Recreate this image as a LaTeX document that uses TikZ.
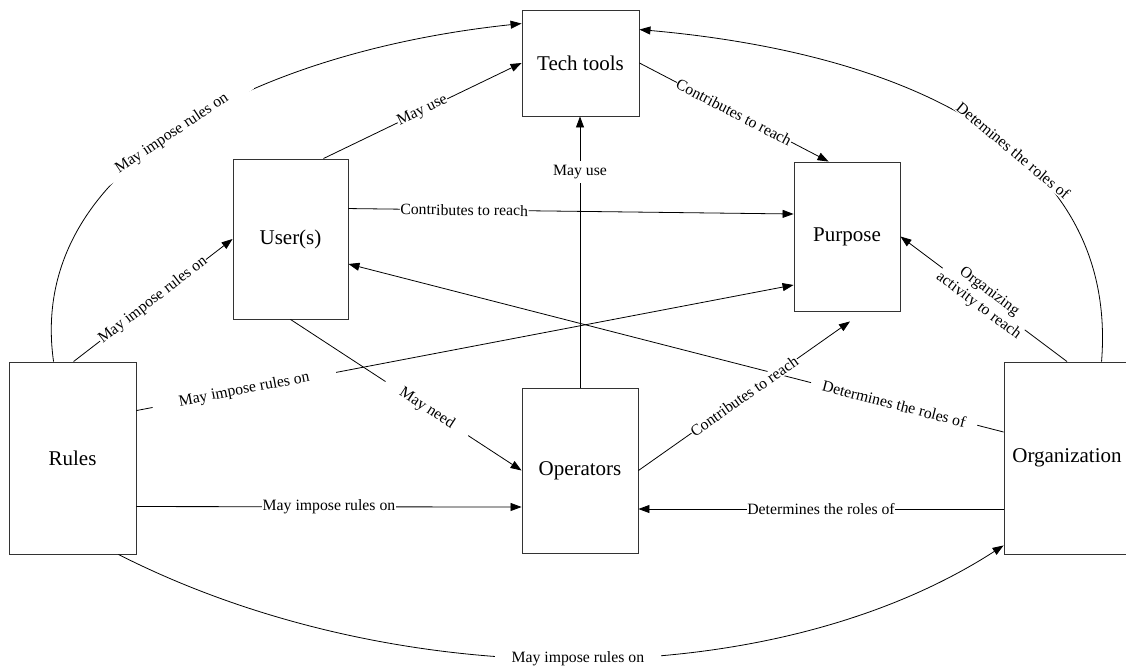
\documentclass[tikz,border=0pt]{standalone}
\usepackage{fontspec}
\setmainfont{Liberation Serif}
\usetikzlibrary{arrows.meta}
\begin{document}
\begin{tikzpicture}[x=1pt,y=-1pt,
  box/.style={draw=black!80, line width=0.9pt, fill=white, inner sep=0pt, font=\fontsize{21}{25}\selectfont},
  conn/.style={line width=0.8pt, -{Triangle[length=11pt,width=8pt]}},
  lbl/.style={fill=white, inner xsep=0.5pt, inner ysep=1pt, font=\fontsize{15.75}{18}\selectfont},
]
\useasboundingbox (0,0) rectangle (1126,668);
\clip (0,0) rectangle (1126,668);

\node[box, minimum width=117pt, minimum height=106pt] (tech) at (580.5,63) {Tech tools};
\node[box, minimum width=115pt, minimum height=160pt] (users) at (290.5,239) {User(s)};
\node[box, minimum width=106pt, minimum height=149pt] (purpose) at (847,236.5) {Purpose};
\node[box, minimum width=127pt, minimum height=192pt] (rules) at (72.5,458) {Rules};
\node[box, minimum width=116pt, minimum height=165pt] (ops) at (580,470.5) {Operators};
\node[box, minimum width=126pt, minimum height=192pt] (org) at (1067,458) {Organization};

% Rules -> Tech tools (arc)
\draw[conn] ([xshift=45pt]rules.north west) .. controls (25,160) and (270,50) .. ([yshift=-14pt]tech.north west)
  node[lbl, sloped, pos=0.48, inner xsep=27pt] {May impose rules on};
% Users -> Tech tools
\draw[conn] ([xshift=-25pt]users.north east) -- (tech.west)
  node[lbl, sloped, pos=0.5] {May use};
% Users -> Purpose
\draw[conn] ([yshift=-50pt]users.north east) -- ([yshift=22.5pt]purpose.west)
  node[lbl, sloped, pos=0.26] {Contributes to reach};
% Rules -> Users
\draw[conn] ([xshift=65pt]rules.north west) -- (users.west)
  node[lbl, sloped, pos=0.5] {May impose rules on};
% Rules -> Purpose
\draw[conn] ([yshift=-49pt]rules.north east) -- ([yshift=-48.5pt]purpose.west)
  node[lbl, sloped, pos=0.164, inner xsep=27pt] {May impose rules on};
% Users -> Operators
\draw[conn] (users.south) -- (ops.west)
  node[lbl, sloped, pos=0.59, inner xsep=18pt] {May need};
% Rules -> Operators
\draw[conn] ([yshift=-145pt]rules.north east) -- ([yshift=-36.5pt]ops.west)
  node[lbl, pos=0.5] {May impose rules on};
% Rules -> Organization (bottom arc)
\draw[conn] ([xshift=-18pt]rules.south east) .. controls (395,695) and (772,695) .. ([yshift=9pt]org.south west)
  node[lbl, pos=0.5, inner xsep=17pt] {May impose rules on};
% Operators -> Tech tools
\draw[conn] (ops.north) -- (ops.north |- tech.south)
  node[lbl, pos=0.794, inner sep=4pt] {May use};
% Tech tools -> Purpose
\draw[conn] (tech.east) -- ([xshift=35pt]purpose.north west)
  node[lbl, sloped, pos=0.5] {Contributes to reach};
% Organization -> Tech tools (arc)
\draw[conn] ([xshift=98pt]org.north west) .. controls (1120,130) and (870,50) .. ([yshift=-20pt]tech.north east)
  node[lbl, sloped, pos=0.4, inner xsep=18pt] {Detemines the roles of};
% Organization -> Purpose
\draw[conn] (org.north) -- (purpose.east)
  node[lbl, sloped, pos=0.5, align=center] {Organizing\\activity to reach};
% Organization -> Users
\draw[conn] ([yshift=26pt]org.west) -- ([yshift=-25pt]users.east)
  node[lbl, sloped, pos=0.167, inner xsep=12pt] {Determines the roles of};
% Operators -> Purpose
\draw[conn] (ops.east) -- ([xshift=3pt,yshift=-10pt]purpose.south)
  node[lbl, sloped, pos=0.5] {Contributes to reach};
% Organization -> Operators
\draw[conn] ([yshift=-51pt]org.west) -- ([yshift=-38.5pt]ops.east)
  node[lbl, pos=0.5] {Determines the roles of};
\end{tikzpicture}
\end{document}
